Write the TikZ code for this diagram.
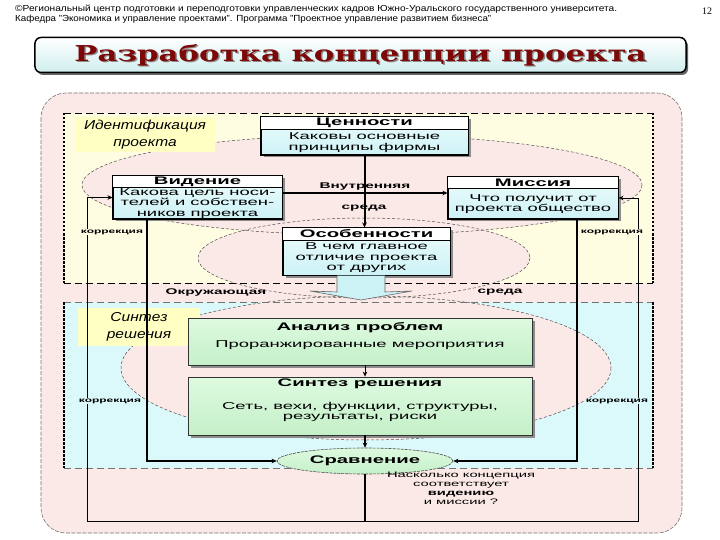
\documentclass[tikz,border=0pt]{standalone}
\usepackage{fontspec}
\setmainfont{Liberation Sans}
\newfontfamily\sw[FakeStretch=1.85]{Liberation Sans}
\newfontfamily\itf[FakeStretch=1.2]{Liberation Sans}
\newfontfamily\ttlf{DejaVu Serif}
\newfontfamily\serf{Liberation Serif}
\usetikzlibrary{arrows.meta,shadows,shapes.geometric,calc}
\definecolor{pinkbg}{RGB}{251,233,231}
\definecolor{yelbg}{RGB}{254,253,226}
\definecolor{cyabg}{RGB}{219,248,251}
\definecolor{cbox1}{RGB}{236,252,252}
\definecolor{cbox2}{RGB}{205,242,246}
\definecolor{gbox1}{RGB}{222,250,224}
\definecolor{gbox2}{RGB}{196,240,200}
\definecolor{labyel}{RGB}{255,255,196}
\definecolor{titlec}{RGB}{208,238,238}
\definecolor{titlered}{RGB}{125,8,8}
\tikzset{
  arr/.style={-{Stealth[length=5bp,width=4.5bp]}},
  thk/.style={line width=2bp},
  med/.style={line width=1.2bp},
  thn/.style={line width=0.7bp},
  ell/.style={draw=black!70, line width=0.5bp, dash pattern=on 3bp off 2bp},
  hdash/.style={line width=0.9bp, dash pattern=on 7bp off 4bp},
  hdashg/.style={line width=0.9bp, draw=black!55, dash pattern=on 7bp off 4bp},
  vdash/.style={line width=1.5bp, dash pattern=on 2.5bp off 1.5bp},
  cbox/.style={draw=black, line width=1bp, top color=cbox1, bottom color=cbox2,
    drop shadow={shadow xshift=2.5bp, shadow yshift=-2.5bp, fill=black!45, opacity=1}},
  gbox/.style={draw=black!80, line width=0.8bp, top color=gbox1, bottom color=gbox2,
    drop shadow={shadow xshift=2.5bp, shadow yshift=-2.5bp, fill=black!45, opacity=1}},
  hdr/.style={font=\sw\bfseries\fontsize{11}{12}\selectfont, inner sep=0},
  bdy/.style={font=\sw\fontsize{10}{10.5}\selectfont, align=center, inner sep=0},
  lbl/.style={font=\sw\bfseries\fontsize{8.3}{9}\selectfont, inner sep=1bp},
  kor/.style={font=\sw\bfseries\fontsize{6.5}{7}\selectfont, inner sep=1bp},
  lab/.style={fill=labyel, font=\itf\itshape\fontsize{13}{16.5}\selectfont, align=center, inner sep=0},
}
\newcommand\mkcbox[8]{%
  \node[cbox, minimum width=#4bp, minimum height=#5bp] (#1) at (#2,#3) {};
  \fill[white] ([xshift=0.5bp,yshift=-0.5bp]#1.north west) rectangle ($(#1.north east)+(-0.5,#6)$);
  \draw[line width=0.6bp] ($(#1.north west)+(0,#6)$) -- ($(#1.north east)+(0,#6)$);
  \draw[line width=1bp] (#1.north west) rectangle (#1.south east);
  \node[hdr] (#1-h) at ($(#1.north)+(0,#6*0.5)$) {#7};
  \node[bdy] (#1-b) at ($(#1.center)+(0,#6*0.5)$) {#8};
}
\newcommand\mytitle{\resizebox{572bp}{17bp}{\ttlf\bfseries Разработка концепции проекта}}
\begin{document}
\begin{tikzpicture}[x=1bp,y=-1bp, every node/.style={inner sep=0}]
\useasboundingbox (0,0) rectangle (720,540);
\fill[white] (0,0) rectangle (720,540);
% header
\node[anchor=west] (h1) at (15,9) {\resizebox{602bp}{6.5bp}{©Региональный центр подготовки и переподготовки управленческих кадров Южно-Уральского государственного университета.}};
\node[anchor=west] (h2) at (15,19) {\resizebox{476bp}{6.5bp}{Кафедра "Экономика и управление проектами". Программа "Проектное управление развитием бизнеса"}};
\node (pg) at (707,11) {\serf\fontsize{10}{10}\selectfont 12};
% title
\node[draw=black, line width=1.5bp, rounded corners=6bp, minimum width=651bp, minimum height=35bp,
  top color=white, bottom color=titlec,
  drop shadow={shadow xshift=2bp, shadow yshift=-2.5bp, fill=black!60, opacity=1}] (tbox) at (360.5,55) {};
\node[text=black!45] at ([xshift=1.5bp,yshift=-1.5bp]tbox.center) {\mytitle};
\node[text=titlered] (title) at (tbox.center) {\mytitle};
% backgrounds
\draw[fill=pinkbg, draw=black!55, line width=0.6bp, dash pattern=on 4bp off 1.5bp, rounded corners=25bp] (41,93) rectangle (682,533);
\fill[yelbg] (64,113) rectangle (653,283);
\fill[cyabg] (64,302) rectangle (653,468);
\fill[pinkbg] (362,185) ellipse [x radius=280, y radius=50];
\fill[pinkbg] (364,258) ellipse [x radius=166, y radius=40];
\fill[pinkbg] (366,368) ellipse [x radius=245, y radius=72];
\draw[ell] (362,185) ellipse [x radius=280, y radius=50];
\draw[ell] (364,258) ellipse [x radius=166, y radius=40];
\draw[ell] (366,368) ellipse [x radius=245, y radius=72];
% region borders
\draw[hdash] (64,113) -- (653,113);
\draw[hdash] (64,283) -- (653,283);
\draw[vdash] (64,113) -- (64,283);
\draw[vdash] (653,113) -- (653,283);
\draw[hdashg] (64,302) -- (653,302);
\draw[hdashg] (64,468) -- (653,468);
\draw[vdash] (64,302) -- (64,468);
\draw[vdash] (653,302) -- (653,468);
% labels
\node[lab, minimum width=140bp, minimum height=35bp] (idlab) at (145,134.5) {Идентификация\\проекта};
\node[lab, minimum width=122bp, minimum height=38bp] (snlab) at (139,327) {Синтез\\решения};
% boxes
\mkcbox{cen}{364.5}{136}{207}{38}{13}{Ценности}{Каковы основные\\принципы фирмы}
\mkcbox{vid}{197.5}{197.5}{169}{43}{12}{Видение}{Какова цель носи-\\телей и собствен-\\ников  проекта}
\mkcbox{mis}{533}{198}{170}{42}{12}{Миссия}{Что получит от\\проекта общество}
\mkcbox{oso}{366.5}{251.5}{167}{47}{13}{Особенности}{В чем главное\\отличие проекта\\от других}
% block arrow
\filldraw[fill=cbox2, draw=black!60, line width=0.6bp] (337,275.5) -- (337,292) -- (310,291) -- (361,300) -- (412,291) -- (385,292) -- (385,275.5);
\node[gbox, minimum width=344bp, minimum height=47bp] (ana) at (360,341.5) {};
\node[hdr] (ana-h) at (360,328) {Анализ проблем};
\node[bdy] (ana-b) at (360,345) {Проранжированные мероприятия};
\node[gbox, minimum width=344bp, minimum height=58bp] (syn) at (360,406) {};
\node[hdr] (syn-h) at (360,384) {Синтез решения};
\node[bdy] (syn-b) at (360,412) {Сеть, вехи, функции, структуры,\\результаты, риски};
\node[ellipse, draw=black!70, line width=0.6bp, dash pattern=on 3bp off 1bp, top color=gbox1, bottom color=gbox2,
  minimum width=176bp, minimum height=26bp, font=\sw\bfseries\fontsize{11}{12}\selectfont] (cmp) at (365,461) {Сравнение};
\node[font=\sw\fontsize{8}{9}\selectfont, align=center] (q) at (461,488) {Насколько  концепция\\соответствует\\{\bfseries видению}\\и миссии ?};
% text labels
\node[lbl] (vn) at (365,187) {Внутренняя};
\node[lbl] (sr1) at (364,208) {среда};
\node[lbl] (ok) at (216,292) {Окружающая};
\node[lbl] (sr2) at (500,292) {среда};
% connectors
\coordinate (vL) at (147,0);
\coordinate (vR) at (577,0);
\coordinate (bl) at (87,521);
\coordinate (br) at (638,521);
\draw[thk, arr] (cen.south) -- (cen.south |- oso.north);
\draw[thk, arr] (vid.east |- 0,193) -- (mis.west |- 0,193);
\draw[thk, arr] (vid.south -| vL) |- (cmp.west);
\draw[med, arr] (mis.south -| vR) |- (cmp.east);
\draw[thn, arr] (ana.south -| cmp.north) -- (syn.north -| cmp.north);
\draw[med, arr] (syn.south -| cmp.north) -- (cmp.north);
\draw[thk] (cmp.south) -- (cmp.south |- bl);
\draw[thn, arr] (cmp.south |- bl) -- (bl) |- (vid.west);
\draw[thn, arr] (cmp.south |- bl) -- (br) |- (mis.east);
% correction labels
\node[kor, fill=yelbg] (k1) at (112,232) {коррекция};
\node[kor, fill=yelbg] (k2) at (612,232) {коррекция};
\node[kor, fill=cyabg] (k3) at (110,401) {коррекция};
\node[kor, fill=cyabg] (k4) at (617,401) {коррекция};
\end{tikzpicture}
\end{document}
